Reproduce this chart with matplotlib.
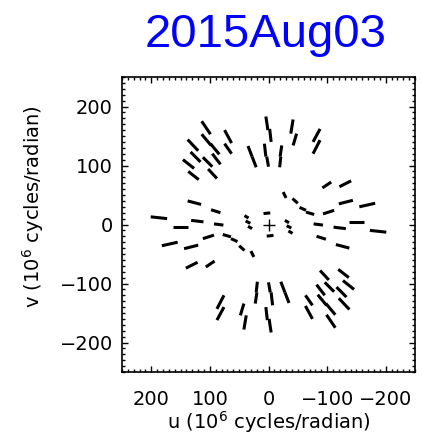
import matplotlib
matplotlib.use("Agg")
import matplotlib.pyplot as plt
from matplotlib.ticker import MultipleLocator

# uv track segments in 10^6 cycles/radian (one half of the plane,
# the conjugate half (-u, -v) is drawn from the same numbers)
u_start = [114, 114, 99, 75, 75, 138, 133, 146, 137, 112, 96, 103,
           35, 28, 4.5, -2, 7, 3, -22.6, -21, -42, -48, -88, -88,
           201, 163, 138, 132, 98, 93, 182, 144, 112, 78, 64, 50, 30,
           141, 107, 41, 39, 35, 8.5]
v_start = [175, 153, 137, 160, 137, 144, 123, 110, 90, 114, 120, 94,
           133, 115, 183, 162, 137, 115, 134, 115, 178, 154, 162, 143,
           13, -4, 40, 7, 25, 1, -36, -41, -24, -17, -24, -36, -45,
           -74, -72, 15, 6, -3, 18.5]
u_end = [99, 98, 84, 63, 63, 120, 116, 127, 119, 96, 82, 88,
         28, 21, 1, -4.5, 4.5, 0, -19.8, -19, -38, -42, -76, -76,
         173, 138, 115, 111, 82, 77, 155, 120, 93, 64, 53, 41, 25,
         121, 92, 34, 31, 28, -3]
v_end = [153, 134, 119, 138, 120, 125, 106, 95, 76, 98, 102, 78,
         115, 97, 160, 140, 115, 98, 115, 97, 154, 134, 140, 120,
         10, -4, 34, 4.5, 20, -1, -30, -35, -18, -21, -29, -44, -55,
         -64, -62, 11, 2, -7, 19.7]

title = "2015Aug03"
ticks = [-200, -100, 0, 100, 200]

fig = plt.figure(figsize=(4.22, 4.41), dpi=100)
ax = fig.add_axes([122 / 422, 69 / 441, 293 / 422, 295 / 441])

for sign in (1, -1):
    for u0, v0, u1, v1 in zip(u_start, v_start, u_end, v_end):
        ax.plot([sign * u0, sign * u1], [sign * v0, sign * v1],
                color="black", lw=2.2, solid_capstyle="butt")

# phase centre
ax.plot(0, 0, marker="+", ms=9, mew=1.0, color="black")

ax.set_xlim(250, -250)
ax.set_ylim(-250, 250)
ax.set_xticks(ticks)
ax.set_yticks(ticks)
ax.xaxis.set_minor_locator(MultipleLocator(10))
ax.yaxis.set_minor_locator(MultipleLocator(10))
ax.tick_params(which="both", direction="in", top=True, right=True,
               width=1.0, labelsize=14)
ax.tick_params(which="major", length=4.5)
ax.tick_params(which="minor", length=2)
ax.tick_params(axis="x", pad=13)
ax.tick_params(axis="y", pad=6.5)
for sp in ax.spines.values():
    sp.set_linewidth(1.2)

ax.set_xlabel(r"u (10$^6$ cycles/radian)", fontsize=14)
ax.set_ylabel(r"v (10$^6$ cycles/radian)", fontsize=14)
ax.xaxis.set_label_coords(0.5, -0.125)
ax.yaxis.set_label_coords(-0.26, 0.56)

fig.text(266 / 422, 1 - 47 / 441, title, color="blue", fontsize=34,
         family="Liberation Sans", ha="center", va="baseline")

fig.savefig("out.png", dpi=100)
